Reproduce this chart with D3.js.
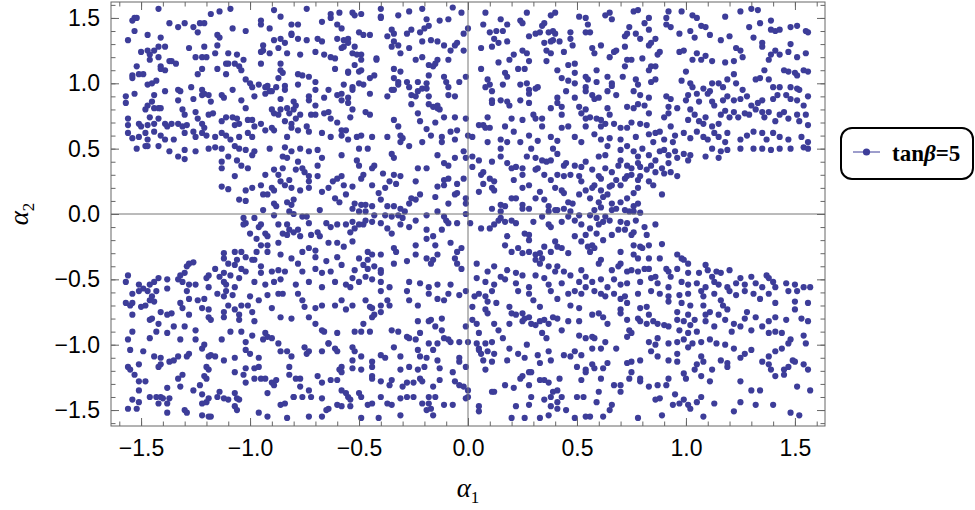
<!DOCTYPE html>
<html>
<head>
<meta charset="utf-8">
<script src="https://cdn.jsdelivr.net/npm/d3@7"></script>
<style>
  body { margin: 0; background: #fff; }
  svg { display: block; }
</style>
</head>
<body>
<div class="canvas"></div>
<script>
// alpha1, alpha2 pairs, grouped by region
const upperLeft = [[-1.42,1.57],[-1.53,1.50],[-1.54,1.48],[-1.52,1.50],[-1.37,1.46],[-1.33,1.43],[-1.30,1.46],[-1.26,1.43],[-1.23,1.46],[-1.21,1.46],[-1.24,1.39],[-1.18,1.53],[-1.14,1.55],[-1.09,1.57],[-1.47,1.37],[-1.41,1.35],[-1.53,1.40],[-1.56,1.33],[-1.08,1.42],[-1.02,1.40],[-0.95,1.48],[-0.95,1.45],[-0.89,1.56],[-0.86,1.51],[-0.91,1.42],[-0.81,1.45],[-0.78,1.45],[-0.74,1.57],[-0.67,1.47],[-0.63,1.53],[-0.59,1.54],[-0.63,1.50],[-0.58,1.42],[-0.60,1.45],[-1.15,1.37],[-1.14,1.35],[-1.50,1.24],[-1.47,1.25],[-1.46,1.22],[-1.44,1.25],[-1.42,1.28],[-1.39,1.28],[-1.46,1.18],[-1.42,1.20],[-1.28,1.27],[-1.21,1.28],[-1.15,1.29],[-1.16,1.23],[-1.25,1.20],[-1.22,1.20],[-1.20,1.20],[-1.10,1.23],[-1.06,1.22],[-1.03,1.18],[-0.94,1.29],[-0.94,1.25],[-0.91,1.23],[-0.95,1.24],[-0.89,1.33],[-0.86,1.34],[-0.84,1.31],[-0.87,1.27],[-0.83,1.23],[-0.81,1.38],[-0.81,1.37],[-0.78,1.34],[-0.77,1.22],[-0.74,1.33],[-0.69,1.34],[-0.67,1.32],[-0.70,1.24],[-0.66,1.22],[-0.63,1.20],[-0.61,1.19],[-0.58,1.27],[-0.57,1.28],[-0.55,1.34],[-0.57,1.33],[-0.60,1.34],[-1.41,1.13],[-1.41,1.11],[-1.39,1.10],[-1.37,1.17],[-1.36,1.17],[-1.34,1.15],[-1.52,1.13],[-1.54,1.06],[-1.54,1.04],[-1.51,1.07],[-1.49,1.07],[-1.47,0.99],[-1.45,1.00],[-1.43,1.02],[-1.24,1.07],[-1.22,1.11],[-1.15,1.11],[-1.11,1.15],[-1.10,1.15],[-1.11,1.07],[-1.07,1.15],[-1.05,1.13],[-1.04,1.10],[-1.02,1.03],[-0.95,1.15],[-0.86,1.15],[-0.86,1.10],[-0.85,1.08],[-0.87,1.04],[-0.78,1.07],[-0.76,1.06],[-0.73,1.05],[-0.70,1.01],[-0.61,1.11],[-0.55,1.08],[-0.99,0.97],[-1.00,1.00],[-0.96,0.99],[-0.93,0.97],[-0.92,0.98],[-0.90,0.94],[-0.88,0.97],[-0.84,0.98],[-0.84,0.95],[-0.78,0.99],[-0.73,0.90],[-0.70,0.95],[-0.64,0.95],[-0.58,0.92],[-0.57,0.99],[-1.57,0.90],[-1.57,0.85],[-1.53,0.92],[-1.44,0.91],[-1.45,0.86],[-1.39,0.94],[-1.33,0.95],[-1.32,0.94],[-1.27,0.97],[-1.22,0.95],[-1.22,0.91],[-1.21,0.92],[-1.19,0.91],[-1.26,0.88],[-1.18,0.86],[-1.13,0.91],[-1.12,0.89],[-1.08,0.95],[-1.04,0.87],[-0.98,0.90],[-0.93,0.92],[-0.91,0.94],[-0.86,0.88],[-0.80,0.86],[-0.79,0.83],[-0.73,0.87],[-0.70,0.83],[-0.66,0.89],[-0.60,0.91],[-0.58,0.87],[-0.55,0.85],[-0.66,0.77],[-1.47,0.83],[-1.48,0.80],[-1.44,0.81],[-1.42,0.81],[-1.41,0.81],[-1.33,0.87],[-1.31,0.80],[-1.30,0.76],[-1.42,0.73],[-1.46,0.74],[-1.56,0.73],[-1.56,0.68],[-1.51,0.69],[-1.50,0.67],[-1.47,0.68],[-1.44,0.69],[-1.39,0.69],[-1.38,0.67],[-1.36,0.69],[-1.33,0.69],[-1.31,0.67],[-1.29,0.68],[-1.25,0.78],[-1.24,0.73],[-1.22,0.69],[-1.21,0.66],[-1.19,0.76],[-1.17,0.77],[-1.13,0.71],[-1.11,0.74],[-1.08,0.74],[-1.06,0.73],[-1.07,0.68],[-1.05,0.69],[-1.02,0.81],[-1.01,0.72],[-0.99,0.72],[-0.98,0.67],[-0.95,0.69],[-0.93,0.64],[-0.90,0.80],[-0.89,0.77],[-0.87,0.76],[-0.86,0.80],[-0.83,0.81],[-0.82,0.77],[-0.80,0.80],[-0.79,0.73],[-0.77,0.76],[-0.84,0.71],[-0.81,0.69],[-0.74,0.67],[-0.72,0.76],[-0.70,0.76],[-0.64,0.78],[-0.63,0.73],[-0.60,0.70],[-0.56,0.64],[-0.58,0.64],[-1.56,0.62],[-1.54,0.58],[-1.51,0.59],[-1.48,0.62],[-1.47,0.57],[-1.44,0.63],[-1.41,0.60],[-1.39,0.57],[-1.35,0.57],[-1.30,0.62],[-1.26,0.63],[-1.25,0.59],[-1.22,0.62],[-1.20,0.60],[-1.16,0.59],[-1.13,0.62],[-1.11,0.60],[-1.09,0.57],[-1.05,0.59],[-1.01,0.62],[-0.99,0.59],[-0.90,0.66],[-0.89,0.64],[-0.81,0.66],[-0.83,0.59],[-0.78,0.64],[-0.73,0.63],[-0.67,0.62],[-0.63,0.59],[-0.58,0.60],[-0.55,0.57]];
const upperMid = [[-0.53,1.54],[-0.52,1.52],[-0.49,1.53],[-0.40,1.57],[-0.40,1.51],[-0.40,1.50],[-0.32,1.52],[-0.27,1.55],[-0.21,1.57],[-0.19,1.49],[-0.13,1.48],[-0.09,1.49],[-0.07,1.58],[-0.03,1.54],[-0.50,1.39],[-0.48,1.37],[-0.45,1.37],[-0.35,1.41],[-0.34,1.38],[-0.37,1.36],[-0.28,1.38],[-0.26,1.41],[-0.22,1.39],[-0.18,1.44],[-0.20,1.42],[-0.02,1.38],[0.00,1.42],[-0.55,1.31],[-0.52,1.28],[-0.35,1.28],[-0.34,1.32],[-0.32,1.29],[-0.31,1.23],[-0.27,1.27],[-0.21,1.32],[-0.17,1.33],[-0.14,1.32],[-0.11,1.29],[-0.08,1.25],[-0.06,1.29],[-0.05,1.31],[-0.02,1.25],[-0.53,1.23],[-0.51,1.22],[-0.49,1.22],[-0.49,1.18],[-0.42,1.19],[-0.42,1.18],[-0.24,1.18],[-0.21,1.20],[-0.18,1.14],[-0.16,1.13],[-0.15,1.15],[-0.14,1.18],[-0.09,1.18],[-0.52,1.14],[-0.50,1.09],[-0.49,1.10],[-0.55,1.09],[-0.34,1.11],[-0.31,1.09],[-0.45,1.04],[-0.43,1.06],[-0.34,1.04],[-0.32,1.01],[-0.32,0.99],[-0.28,1.01],[-0.27,0.97],[-0.23,1.01],[-0.19,1.00],[-0.18,1.06],[-0.11,1.05],[-0.10,1.01],[-0.04,1.01],[-0.01,1.05],[-0.53,0.97],[-0.53,0.95],[-0.48,0.99],[-0.50,1.00],[-0.55,0.89],[-0.45,0.92],[-0.37,0.90],[-0.35,0.95],[-0.34,0.95],[-0.26,0.91],[-0.24,0.90],[-0.23,0.94],[-0.21,0.96],[-0.19,0.96],[-0.18,0.90],[-0.09,0.91],[-0.06,0.90],[-0.09,0.97],[-0.26,0.84],[-0.18,0.84],[-0.16,0.82],[-0.14,0.83],[-0.13,0.80],[-0.14,0.81],[-0.53,0.80],[-0.54,0.74],[-0.47,0.78],[-0.45,0.76],[-0.34,0.72],[-0.32,0.67],[-0.23,0.77],[-0.22,0.71],[-0.19,0.65],[-0.15,0.70],[-0.11,0.74],[-0.06,0.74],[-0.08,0.63],[-0.05,0.64],[-0.51,0.59],[-0.49,0.60],[-0.44,0.59],[-0.37,0.59],[-0.31,0.60],[-0.30,0.58],[-0.31,0.55],[-0.21,0.55],[-0.17,0.60],[-0.12,0.59],[-0.12,0.55],[-0.06,0.57],[0.00,0.60],[0.02,0.59],[-0.01,0.73],[0.08,1.54],[0.07,1.45],[0.15,1.49],[0.18,1.45],[0.27,1.54],[0.24,1.48],[0.25,1.46],[0.38,1.52],[0.40,1.54],[0.51,1.51],[0.54,1.50],[0.10,1.39],[0.13,1.40],[0.16,1.40],[0.12,1.34],[0.11,1.28],[0.14,1.31],[0.18,1.32],[0.28,1.36],[0.31,1.38],[0.33,1.39],[0.35,1.46],[0.34,1.44],[0.37,1.39],[0.39,1.40],[0.40,1.38],[0.39,1.33],[0.38,1.32],[0.42,1.32],[0.47,1.39],[0.47,1.34],[0.48,1.29],[0.54,1.39],[0.06,1.27],[0.06,1.11],[0.14,1.16],[0.17,1.08],[0.18,1.05],[0.19,1.18],[0.21,1.22],[0.23,1.11],[0.25,1.25],[0.27,1.23],[0.28,1.17],[0.26,1.11],[0.35,1.31],[0.36,1.25],[0.38,1.23],[0.36,1.17],[0.41,1.10],[0.44,1.24],[0.46,1.14],[0.49,1.15],[0.49,1.08],[0.54,1.05],[0.43,1.04],[0.46,1.02],[0.09,1.03],[0.10,0.99],[0.08,0.97],[0.11,0.94],[0.16,0.99],[0.24,0.99],[0.27,1.00],[0.28,0.95],[0.28,0.92],[0.31,0.96],[0.32,0.97],[0.45,0.94],[0.49,1.00],[0.54,0.97],[0.54,0.94],[0.11,0.87],[0.11,0.85],[0.15,0.87],[0.18,0.86],[0.19,0.83],[0.24,0.87],[0.28,0.85],[0.41,0.89],[0.41,0.85],[0.38,0.81],[0.43,0.82],[0.49,0.89],[0.51,0.82],[0.54,0.80],[0.52,0.77],[0.05,0.68],[0.07,0.68],[0.09,0.74],[0.10,0.66],[0.08,0.66],[0.17,0.67],[0.20,0.73],[0.21,0.63],[0.25,0.72],[0.30,0.76],[0.31,0.73],[0.34,0.73],[0.34,0.67],[0.43,0.76],[0.43,0.66],[0.46,0.67],[0.54,0.73],[0.54,0.67],[0.09,0.55],[0.15,0.57],[0.18,0.55],[0.24,0.55],[0.28,0.60],[0.32,0.56],[0.38,0.59],[0.41,0.56],[0.49,0.59],[0.52,0.55]];
const upperRight = [[0.65,1.54],[0.63,1.52],[0.66,1.49],[0.76,1.55],[0.78,1.56],[0.92,1.55],[0.98,1.55],[1.03,1.52],[1.05,1.50],[1.18,1.51],[1.25,1.55],[1.30,1.57],[1.33,1.56],[1.39,1.48],[1.48,1.43],[1.51,1.44],[1.55,1.40],[1.56,1.39],[0.91,1.50],[0.91,1.45],[0.93,1.43],[0.97,1.38],[1.02,1.40],[1.04,1.35],[0.83,1.50],[0.81,1.46],[0.83,1.41],[1.07,1.44],[1.09,1.43],[1.11,1.37],[1.29,1.43],[1.34,1.46],[1.39,1.41],[1.41,1.40],[1.43,1.41],[0.55,1.45],[0.56,1.39],[0.74,1.43],[0.73,1.38],[0.72,1.36],[0.77,1.38],[0.79,1.34],[0.84,1.31],[0.86,1.34],[0.61,1.29],[0.57,1.27],[0.58,1.23],[0.67,1.24],[0.65,1.20],[0.68,1.25],[0.72,1.28],[0.83,1.29],[0.88,1.24],[0.87,1.22],[0.97,1.24],[0.99,1.25],[1.05,1.23],[1.09,1.21],[1.12,1.17],[1.16,1.33],[1.20,1.36],[1.23,1.27],[1.25,1.25],[1.26,1.20],[1.22,1.17],[1.18,1.16],[1.31,1.35],[1.35,1.31],[1.35,1.28],[1.39,1.22],[1.38,1.18],[1.41,1.25],[1.43,1.22],[1.47,1.24],[1.48,1.30],[1.51,1.20],[1.55,1.23],[0.73,1.18],[0.75,1.18],[0.72,1.13],[0.80,1.19],[0.83,1.10],[0.84,1.13],[0.86,1.13],[1.00,1.09],[1.03,1.18],[1.07,1.18],[0.59,1.10],[0.64,1.05],[0.66,1.00],[0.66,0.98],[0.71,1.05],[0.77,1.03],[0.78,0.99],[0.86,1.03],[0.84,1.01],[0.55,1.03],[0.59,1.01],[0.98,1.02],[1.02,1.00],[1.03,0.97],[1.08,0.96],[1.11,0.94],[1.12,1.00],[1.15,1.00],[1.17,0.97],[1.19,1.03],[1.22,1.07],[1.23,1.00],[1.26,0.95],[1.32,1.03],[1.34,1.04],[1.36,1.10],[1.38,1.03],[1.40,0.97],[1.43,0.97],[1.45,1.10],[1.47,1.09],[1.50,1.08],[1.51,1.06],[1.54,1.10],[1.56,1.09],[1.48,0.97],[1.51,0.96],[1.52,0.95],[1.46,0.91],[0.57,0.91],[0.58,0.88],[0.60,0.89],[0.64,0.94],[0.68,0.91],[0.76,0.94],[0.79,0.91],[0.83,0.89],[0.91,0.90],[0.93,0.88],[0.96,0.81],[0.92,0.82],[0.92,0.77],[0.90,0.74],[1.00,0.87],[1.01,0.91],[1.05,0.92],[1.06,0.86],[1.10,0.92],[1.12,0.86],[1.13,0.83],[1.17,0.87],[1.19,0.90],[1.22,0.87],[1.25,0.88],[1.28,0.90],[1.30,0.83],[1.33,0.85],[1.35,0.87],[1.40,0.88],[1.42,0.91],[1.48,0.88],[1.51,0.87],[1.54,0.83],[1.56,0.90],[0.73,0.82],[0.76,0.81],[0.78,0.84],[0.81,0.83],[0.83,0.77],[0.64,0.81],[0.65,0.76],[0.56,0.74],[0.59,0.73],[0.61,0.72],[0.61,0.67],[0.63,0.69],[0.67,0.69],[0.70,0.66],[0.73,0.66],[0.75,0.70],[0.79,0.69],[0.82,0.68],[0.86,0.62],[0.88,0.63],[0.93,0.67],[0.95,0.60],[1.01,0.72],[1.02,0.80],[1.04,0.76],[1.06,0.71],[1.08,0.69],[1.09,0.74],[1.12,0.67],[1.15,0.69],[1.16,0.76],[1.18,0.79],[1.20,0.74],[1.22,0.78],[1.24,0.74],[1.27,0.77],[1.29,0.76],[1.32,0.80],[1.35,0.78],[1.36,0.74],[1.38,0.78],[1.41,0.71],[1.43,0.76],[1.45,0.78],[1.47,0.73],[1.51,0.76],[1.52,0.71],[1.55,0.76],[1.56,0.68],[0.58,0.61],[0.61,0.57],[0.65,0.58],[0.70,0.57],[0.77,0.59],[0.83,0.61],[0.85,0.55],[0.90,0.57],[0.94,0.55],[0.99,0.62],[1.02,0.58],[1.05,0.63],[1.08,0.59],[1.10,0.57],[1.13,0.62],[1.15,0.59],[1.18,0.55],[1.19,0.62],[1.25,0.57],[1.28,0.60],[1.31,0.63],[1.35,0.62],[1.37,0.57],[1.40,0.62],[1.43,0.59],[1.47,0.57],[1.53,0.59],[1.56,0.55]];
const midLeft = [[-1.52,0.50],[-1.48,0.52],[-1.47,0.52],[-1.42,0.52],[-1.37,0.48],[-1.33,0.44],[-1.30,0.42],[-1.30,0.49],[-1.25,0.48],[-1.19,0.50],[-1.16,0.51],[-1.13,0.50],[-1.07,0.52],[-1.05,0.50],[-1.02,0.49],[-0.99,0.45],[-0.98,0.48],[-1.10,0.44],[-1.06,0.41],[-1.04,0.37],[-1.01,0.35],[-1.13,0.40],[-1.13,0.35],[-0.91,0.50],[-0.84,0.51],[-0.85,0.44],[-0.83,0.43],[-0.81,0.48],[-0.77,0.50],[-0.73,0.48],[-0.69,0.49],[-0.67,0.43],[-0.69,0.37],[-0.78,0.40],[-0.76,0.35],[-0.58,0.45],[-1.07,0.29],[-1.13,0.21],[-1.10,0.19],[-1.02,0.18],[-0.99,0.20],[-0.95,0.22],[-0.93,0.30],[-0.89,0.34],[-0.87,0.30],[-0.85,0.35],[-0.90,0.20],[-0.89,0.18],[-0.94,0.15],[-0.92,0.15],[-0.86,0.25],[-0.84,0.22],[-0.82,0.26],[-0.81,0.20],[-0.77,0.18],[-0.73,0.20],[-0.75,0.32],[-0.73,0.29],[-0.73,0.25],[-0.69,0.29],[-0.79,0.34],[-1.05,0.11],[-1.02,0.10],[-0.89,0.08],[-0.88,0.06],[-0.83,0.09],[-0.81,0.07],[-0.80,0.11],[-0.67,0.17],[-0.64,0.20],[-0.62,0.25],[-0.60,0.27],[-0.58,0.29],[-0.57,0.22],[-0.61,0.12],[-0.59,0.09],[-0.56,0.15],[-0.68,0.03],[-0.94,0.03],[-0.89,-0.01],[-0.82,0.02],[-0.80,0.00],[-0.76,-0.02],[-0.74,-0.02],[-1.03,-0.03],[-1.02,-0.07],[-1.03,-0.08],[-0.98,-0.03],[-0.96,-0.10],[-0.95,-0.08],[-1.00,-0.15],[-0.93,-0.15],[-0.97,-0.19],[-0.92,-0.17],[-0.95,-0.24],[-0.92,-0.24],[-0.87,-0.08],[-0.87,-0.22],[-0.83,-0.08],[-0.82,-0.12],[-0.83,-0.16],[-0.85,-0.15],[-0.80,-0.14],[-0.78,-0.12],[-0.77,-0.17],[-0.73,-0.07],[-0.72,-0.16],[-0.69,-0.14],[-0.68,-0.17],[-0.65,-0.07],[-0.63,-0.10],[-0.60,-0.08],[-0.64,-0.22],[-0.73,-0.26],[-0.70,-0.28],[-0.70,-0.33],[-0.76,-0.29],[-0.86,-0.31],[-0.92,-0.29],[-0.97,-0.29],[-0.98,-0.35],[-0.99,-0.35],[-1.04,-0.29],[-1.02,-0.33],[-1.07,-0.29],[-1.12,-0.30],[-1.12,-0.34],[-0.60,-0.22],[-0.57,-0.25],[-0.56,-0.08],[-1.10,-0.38],[-1.07,-0.39],[-1.04,-0.42],[-1.02,-0.44],[-1.06,-0.35],[-1.16,-0.42],[-1.20,-0.49],[-1.19,-0.47],[-1.14,-0.48],[-1.12,-0.45],[-1.09,-0.47],[-1.05,-0.49],[-0.95,-0.40],[-0.95,-0.45],[-0.90,-0.44],[-0.87,-0.43],[-0.84,-0.44],[-0.81,-0.34],[-0.78,-0.38],[-0.76,-0.44],[-0.70,-0.42],[-0.65,-0.36],[-0.67,-0.45],[-0.63,-0.44],[-0.60,-0.33],[-0.58,-0.39],[-1.28,-0.38],[-1.26,-0.37],[-1.29,-0.40],[-1.30,-0.45],[-1.32,-0.47],[-1.33,-0.50],[-1.31,-0.52],[-1.28,-0.54],[-1.42,-0.49],[-1.44,-0.52],[-1.38,-0.50],[-1.46,-0.54],[-1.51,-0.54],[-1.56,-0.47],[-1.57,-0.52],[-1.25,-0.54],[-1.19,-0.56],[-0.98,-0.52],[-0.93,-0.54],[-0.89,-0.52],[-0.86,-0.50],[-0.79,-0.54],[-0.73,-0.52],[-0.67,-0.56],[-0.61,-0.52],[-0.56,-0.54],[-1.12,-0.52],[-1.11,-0.54],[-1.07,-0.56],[-1.38,-0.57],[-1.49,-0.57]];
const center = [[-0.50,0.50],[-0.46,0.50],[-0.35,0.46],[-0.34,0.43],[-0.27,0.52],[-0.14,0.45],[-0.11,0.39],[-0.09,0.37],[-0.06,0.43],[-0.02,0.48],[-0.01,0.43],[0.02,0.44],[0.02,0.36],[0.05,0.41],[0.11,0.40],[0.15,0.44],[0.15,0.50],[0.18,0.39],[0.20,0.35],[0.22,0.36],[0.25,0.35],[0.27,0.44],[0.29,0.50],[0.31,0.43],[0.34,0.41],[0.36,0.40],[0.38,0.41],[0.39,0.50],[0.41,0.46],[0.44,0.37],[0.45,0.39],[0.49,0.37],[-0.51,0.41],[-0.50,0.37],[-0.44,0.35],[-0.43,0.37],[-0.48,0.30],[-0.49,0.27],[-0.39,0.31],[-0.34,0.30],[-0.31,0.29],[-0.23,0.35],[-0.19,0.35],[-0.09,0.27],[-0.05,0.23],[-0.02,0.27],[0.06,0.30],[0.07,0.32],[0.10,0.27],[0.12,0.25],[0.21,0.26],[0.25,0.30],[0.31,0.34],[0.32,0.35],[0.35,0.30],[0.38,0.26],[0.41,0.30],[0.44,0.29],[0.47,0.30],[0.51,0.29],[0.52,0.36],[0.54,0.40],[-0.53,0.21],[-0.44,0.22],[-0.41,0.16],[-0.38,0.20],[-0.36,0.25],[-0.33,0.23],[-0.24,0.25],[-0.22,0.15],[-0.24,0.11],[-0.27,0.08],[-0.26,0.12],[-0.14,0.21],[-0.11,0.26],[-0.11,0.22],[-0.15,0.13],[-0.06,0.15],[-0.05,0.16],[-0.01,0.12],[-0.01,0.08],[0.07,0.23],[0.05,0.17],[0.11,0.20],[0.12,0.18],[0.15,0.07],[0.17,0.06],[0.20,0.12],[0.22,0.12],[0.25,0.20],[0.25,0.07],[0.28,0.22],[0.28,0.04],[0.33,0.17],[0.35,0.11],[0.37,0.06],[0.40,0.20],[0.43,0.18],[0.44,0.16],[0.46,0.09],[0.48,0.08],[0.51,0.15],[0.54,0.18],[0.52,0.25],[-0.52,0.08],[-0.49,0.07],[-0.47,0.07],[-0.44,0.06],[-0.40,0.11],[-0.37,0.06],[-0.34,0.06],[-0.31,0.04],[-0.09,0.08],[-0.53,0.04],[-0.50,0.02],[-0.47,0.02],[-0.43,-0.01],[-0.38,-0.01],[-0.35,-0.02],[-0.32,-0.01],[-0.29,0.02],[-0.19,-0.01],[-0.14,0.02],[-0.11,-0.02],[-0.01,0.00],[0.11,0.04],[0.15,0.02],[0.25,0.04],[0.37,0.02],[0.41,0.03],[0.44,0.04],[0.47,0.02],[0.51,-0.01],[0.31,0.12],[0.40,0.03],[-0.53,-0.06],[-0.50,-0.08],[-0.52,-0.11],[-0.54,-0.14],[-0.48,-0.08],[-0.47,-0.05],[-0.44,-0.06],[-0.40,-0.07],[-0.37,-0.11],[-0.35,-0.15],[-0.31,-0.08],[-0.30,-0.03],[-0.27,-0.10],[-0.24,-0.05],[-0.19,-0.12],[-0.16,-0.17],[-0.12,-0.12],[-0.10,-0.05],[-0.09,-0.07],[-0.05,-0.07],[0.01,-0.07],[0.06,-0.11],[0.10,-0.11],[0.12,-0.08],[0.14,-0.05],[0.15,-0.03],[0.17,-0.06],[0.20,-0.05],[0.22,-0.07],[0.26,-0.15],[0.28,-0.16],[0.28,-0.20],[0.30,-0.06],[0.34,-0.02],[0.37,-0.08],[0.38,-0.10],[0.43,-0.06],[0.46,-0.02],[0.49,-0.05],[0.52,-0.08],[0.54,-0.16],[0.49,-0.17],[0.40,-0.21],[0.41,-0.25],[0.38,-0.29],[0.43,-0.26],[0.46,-0.30],[0.52,-0.21],[0.55,-0.25],[0.18,-0.17],[0.17,-0.24],[0.20,-0.29],[0.23,-0.26],[0.25,-0.30],[0.28,-0.29],[0.31,-0.31],[0.33,-0.30],[0.35,-0.25],[-0.53,-0.21],[-0.46,-0.29],[-0.44,-0.31],[-0.40,-0.31],[-0.34,-0.26],[-0.33,-0.29],[-0.24,-0.24],[-0.19,-0.19],[-0.15,-0.24],[-0.14,-0.31],[-0.08,-0.22],[-0.05,-0.29],[-0.03,-0.26],[-0.50,-0.34],[-0.46,-0.35],[-0.48,-0.39],[-0.46,-0.42],[-0.43,-0.40],[-0.40,-0.43],[-0.40,-0.45],[-0.52,-0.43],[-0.53,-0.49],[-0.50,-0.52],[-0.47,-0.48],[-0.44,-0.50],[-0.40,-0.52],[-0.34,-0.38],[-0.28,-0.36],[-0.24,-0.31],[-0.19,-0.34],[-0.16,-0.35],[-0.17,-0.38],[-0.06,-0.34],[-0.05,-0.38],[-0.03,-0.42],[0.04,-0.38],[0.09,-0.44],[0.12,-0.40],[0.15,-0.48],[0.18,-0.43],[0.22,-0.45],[0.25,-0.47],[0.31,-0.35],[0.33,-0.38],[0.34,-0.34],[0.37,-0.40],[0.40,-0.44],[0.41,-0.40],[0.44,-0.44],[0.47,-0.47],[0.52,-0.43],[0.54,-0.48],[0.31,-0.47],[0.35,-0.49],[-0.27,-0.52],[-0.22,-0.53],[-0.18,-0.56],[-0.14,-0.54],[-0.08,-0.54],[0.04,-0.49],[0.08,-0.52],[0.12,-0.54],[0.17,-0.50],[0.22,-0.53],[0.28,-0.56],[0.37,-0.54],[0.43,-0.53],[0.51,-0.52],[0.54,-0.56],[-0.36,-0.56],[-0.54,-0.56]];
const midRight = [[0.60,0.44],[0.63,0.45],[0.64,0.52],[0.70,0.49],[0.73,0.52],[0.76,0.48],[0.78,0.44],[0.80,0.50],[0.83,0.45],[0.86,0.41],[0.88,0.48],[0.90,0.49],[0.92,0.45],[0.95,0.48],[0.96,0.43],[0.99,0.46],[1.01,0.41],[1.02,0.45],[1.09,0.44],[1.12,0.50],[1.15,0.43],[1.16,0.48],[1.19,0.49],[1.25,0.50],[1.31,0.50],[1.35,0.50],[1.39,0.49],[1.43,0.50],[1.48,0.50],[1.54,0.51],[1.56,0.50],[0.57,0.34],[0.60,0.29],[0.61,0.27],[0.63,0.35],[0.66,0.32],[0.69,0.37],[0.70,0.41],[0.73,0.37],[0.75,0.35],[0.78,0.39],[0.79,0.36],[0.82,0.34],[0.84,0.37],[0.86,0.32],[0.89,0.35],[0.92,0.39],[0.93,0.32],[0.96,0.29],[0.90,0.31],[0.57,0.20],[0.58,0.22],[0.61,0.18],[0.65,0.21],[0.66,0.22],[0.68,0.26],[0.70,0.22],[0.72,0.27],[0.73,0.29],[0.75,0.30],[0.78,0.26],[0.79,0.29],[0.83,0.25],[0.85,0.22],[0.78,0.20],[0.76,0.16],[0.73,0.12],[0.70,0.09],[0.66,0.08],[0.62,0.13],[0.64,0.15],[0.60,0.09],[0.89,0.15],[0.56,0.12],[0.78,0.08],[0.76,0.06],[0.74,0.02],[0.72,0.03],[0.58,0.03],[0.61,0.05],[0.66,0.03],[0.68,0.04],[0.79,0.01],[0.76,0.02],[0.56,-0.01],[0.59,-0.03],[0.63,-0.02],[0.62,-0.06],[0.65,-0.05],[0.70,-0.06],[0.73,-0.07],[0.77,-0.05],[0.81,-0.10],[0.86,-0.08],[0.60,-0.08],[0.56,-0.11],[0.59,-0.15],[0.62,-0.20],[0.66,-0.16],[0.69,-0.12],[0.72,-0.12],[0.75,-0.16],[0.76,-0.14],[0.82,-0.16],[0.57,-0.24],[0.56,-0.29],[0.58,-0.26],[0.70,-0.29],[0.76,-0.24],[0.79,-0.25],[0.80,-0.26],[0.83,-0.24],[0.89,-0.23],[0.76,-0.31],[0.78,-0.34],[0.83,-0.34],[0.88,-0.34],[0.96,-0.31],[0.98,-0.34],[1.01,-0.38],[0.99,-0.35],[0.61,-0.35],[0.60,-0.38],[0.66,-0.43],[0.69,-0.40],[0.70,-0.38],[0.73,-0.44],[0.75,-0.43],[0.78,-0.44],[0.81,-0.42],[0.83,-0.42],[0.86,-0.48],[0.84,-0.49],[0.91,-0.42],[0.92,-0.44],[0.93,-0.48],[0.96,-0.42],[1.01,-0.45],[1.06,-0.45],[1.09,-0.39],[1.10,-0.43],[1.12,-0.48],[1.14,-0.44],[1.16,-0.45],[1.20,-0.43],[1.25,-0.49],[1.30,-0.48],[1.37,-0.47],[1.38,-0.49],[1.40,-0.52],[1.46,-0.53],[1.54,-0.56],[0.57,-0.52],[0.61,-0.50],[0.64,-0.56],[0.67,-0.50],[0.70,-0.54],[0.73,-0.53],[0.79,-0.52],[0.87,-0.53],[0.92,-0.56],[0.98,-0.52],[1.01,-0.54],[1.05,-0.53],[1.09,-0.56],[1.13,-0.52],[1.15,-0.54],[1.19,-0.56],[1.23,-0.53],[1.27,-0.54],[1.32,-0.53],[1.35,-0.56],[1.41,-0.56],[1.50,-0.54],[1.57,-0.56]];
const lowerLeft = [[-1.54,-0.61],[-1.51,-0.59],[-1.47,-0.59],[-1.43,-0.59],[-1.57,-0.68],[-1.55,-0.70],[-1.54,-0.68],[-1.54,-0.77],[-1.50,-0.71],[-1.48,-0.70],[-1.46,-0.66],[-1.44,-0.67],[-1.45,-0.63],[-1.41,-0.75],[-1.38,-0.77],[-1.36,-0.76],[-1.45,-0.80],[-1.46,-0.81],[-1.42,-0.84],[-1.43,-0.90],[-1.38,-0.91],[-1.35,-0.86],[-1.32,-0.68],[-1.31,-0.72],[-1.29,-0.59],[-1.28,-0.65],[-1.28,-0.77],[-1.24,-0.66],[-1.22,-0.72],[-1.21,-0.65],[-1.19,-0.73],[-1.19,-0.79],[-1.18,-0.81],[-1.15,-0.61],[-1.12,-0.63],[-1.11,-0.59],[-1.10,-0.70],[-1.12,-0.75],[-1.12,-0.79],[-1.08,-0.62],[-1.07,-0.73],[-1.05,-0.77],[-1.05,-0.81],[-1.04,-0.70],[-1.01,-0.70],[-1.00,-0.63],[-0.99,-0.75],[-0.98,-0.82],[-0.96,-0.66],[-0.92,-0.62],[-0.90,-0.72],[-0.87,-0.61],[-0.85,-0.61],[-0.86,-0.79],[-0.81,-0.80],[-0.78,-0.61],[-0.76,-0.66],[-0.75,-0.71],[-0.73,-0.79],[-0.70,-0.84],[-0.70,-0.72],[-0.67,-0.70],[-0.67,-0.89],[-0.66,-0.90],[-0.61,-0.70],[-0.60,-0.91],[-0.64,-0.99],[-0.58,-0.66],[-0.56,-0.73],[-1.56,-0.96],[-1.55,-1.04],[-1.54,-0.90],[-1.49,-1.05],[-1.46,-0.95],[-1.32,-0.96],[-1.25,-0.89],[-1.25,-0.96],[-1.22,-1.03],[-1.21,-1.00],[-1.30,-0.86],[-1.13,-0.96],[-1.09,-0.90],[-1.04,-0.90],[-1.02,-0.98],[-0.99,-0.93],[-1.02,-1.04],[-1.00,-1.07],[-0.96,-1.10],[-0.93,-0.91],[-0.92,-0.94],[-0.94,-0.96],[-0.90,-0.95],[-0.87,-0.99],[-0.86,-1.05],[-0.83,-1.05],[-0.81,-1.09],[-0.75,-1.02],[-0.74,-1.07],[-0.73,-1.05],[-0.67,-1.05],[-0.64,-0.99],[-0.61,-1.03],[-0.60,-1.05],[-0.58,-1.17],[-0.59,-1.19],[-1.44,-1.09],[-1.41,-1.10],[-1.42,-1.17],[-1.41,-1.15],[-1.37,-1.13],[-1.35,-1.12],[-1.33,-1.09],[-1.28,-1.07],[-1.29,-1.09],[-1.19,-1.09],[-1.18,-1.08],[-1.16,-1.09],[-1.20,-1.17],[-1.19,-1.19],[-1.21,-1.24],[-1.20,-1.26],[-1.12,-1.12],[-1.07,-1.10],[-1.07,-1.21],[-1.03,-1.23],[-1.02,-1.18],[-0.98,-1.18],[-0.96,-1.17],[-0.98,-1.26],[-0.95,-1.26],[-0.93,-1.26],[-0.90,-1.29],[-0.89,-1.31],[-0.88,-1.27],[-0.82,-1.17],[-0.82,-1.23],[-0.79,-1.26],[-0.77,-1.26],[-0.77,-1.32],[-0.80,-1.40],[-0.69,-1.24],[-0.67,-1.29],[-0.63,-1.27],[-0.60,-1.27],[-0.58,-1.35],[-0.58,-1.21],[-0.55,-1.40],[-1.56,-1.17],[-1.55,-1.19],[-1.53,-1.23],[-1.51,-1.28],[-1.48,-1.28],[-1.51,-1.15],[-1.33,-1.26],[-1.31,-1.23],[-1.32,-1.32],[-1.38,-1.33],[-1.40,-1.41],[-1.38,-1.45],[-1.46,-1.40],[-1.43,-1.40],[-1.41,-1.40],[-1.37,-1.41],[-1.42,-1.45],[-1.56,-1.49],[-1.52,-1.49],[-1.51,-1.44],[-1.23,-1.31],[-1.26,-1.35],[-1.22,-1.38],[-1.22,-1.45],[-1.20,-1.44],[-1.19,-1.41],[-1.15,-1.40],[-1.14,-1.36],[-1.12,-1.41],[-1.10,-1.42],[-1.07,-1.37],[-1.06,-1.41],[-1.05,-1.42],[-1.02,-1.29],[-0.92,-1.37],[-0.86,-1.46],[-0.84,-1.45],[-0.80,-1.40],[-0.76,-1.40],[-0.73,-1.35],[-0.72,-1.40],[-0.67,-1.41],[-0.64,-1.49],[-0.65,-1.50],[-0.60,-1.46],[-0.56,-1.37],[-1.38,-1.52],[-1.30,-1.50],[-1.29,-1.52],[-1.22,-1.54],[-1.19,-1.55],[-1.18,-1.55],[-1.07,-1.47],[-1.06,-1.50],[-0.96,-1.52],[-0.92,-1.55],[-0.83,-1.56],[-0.73,-1.55],[-0.67,-1.55],[-0.58,-1.47],[-1.54,-1.42],[-1.51,-1.35]];
const lowerMid = [[-0.53,-0.70],[-0.47,-0.66],[-0.45,-0.71],[-0.44,-0.72],[-0.40,-0.59],[-0.40,-0.70],[-0.40,-0.75],[-0.37,-0.66],[-0.36,-0.70],[-0.28,-0.59],[-0.27,-0.66],[-0.23,-0.70],[-0.18,-0.61],[-0.14,-0.65],[-0.11,-0.66],[-0.09,-0.61],[-0.04,-0.62],[-0.01,-0.59],[0.02,-0.71],[0.03,-0.63],[0.05,-0.61],[0.08,-0.63],[0.09,-0.67],[0.11,-0.59],[0.13,-0.68],[0.08,-0.73],[0.09,-0.76],[0.19,-0.71],[0.20,-0.76],[0.23,-0.59],[0.25,-0.76],[0.28,-0.79],[0.28,-0.61],[0.30,-0.66],[0.33,-0.71],[0.38,-0.59],[0.41,-0.65],[0.46,-0.61],[0.47,-0.70],[0.51,-0.72],[0.52,-0.61],[0.49,-0.59],[-0.44,-0.79],[-0.43,-0.77],[-0.48,-0.84],[-0.49,-0.90],[-0.52,-0.90],[-0.45,-0.90],[-0.35,-0.89],[-0.32,-0.90],[-0.28,-0.94],[-0.27,-0.95],[-0.24,-0.96],[-0.23,-0.82],[-0.22,-0.91],[-0.18,-0.82],[-0.17,-0.81],[-0.15,-0.86],[-0.12,-0.80],[-0.12,-0.89],[-0.09,-0.96],[-0.14,-0.99],[-0.18,-0.99],[-0.16,-1.04],[-0.11,-0.95],[-0.08,-0.98],[-0.04,-0.98],[0.00,-0.98],[-0.01,-0.86],[0.02,-0.81],[0.04,-0.84],[0.05,-0.91],[0.08,-0.99],[0.11,-0.98],[0.04,-0.99],[0.05,-1.03],[0.09,-1.05],[0.12,-0.84],[0.14,-0.89],[0.16,-0.95],[0.19,-0.84],[0.22,-0.77],[0.25,-0.82],[0.26,-0.80],[0.29,-0.84],[0.31,-0.85],[0.33,-0.82],[0.35,-0.81],[0.37,-0.84],[0.39,-0.79],[0.41,-0.80],[0.34,-0.91],[0.36,-0.95],[0.43,-0.89],[0.46,-0.82],[0.51,-0.82],[0.51,-0.93],[0.54,-0.95],[-0.53,-1.02],[-0.52,-1.05],[-0.53,-1.12],[-0.49,-1.09],[-0.44,-1.13],[-0.44,-1.17],[-0.40,-1.08],[-0.38,-1.10],[-0.34,-1.02],[-0.31,-1.09],[-0.31,-1.19],[-0.27,-1.17],[-0.23,-1.04],[-0.22,-1.09],[-0.19,-1.10],[-0.23,-1.19],[-0.20,-1.17],[-0.14,-1.12],[-0.13,-1.18],[-0.07,-1.21],[-0.04,-1.10],[-0.04,-1.13],[-0.01,-1.17],[0.05,-1.04],[0.06,-1.07],[0.07,-1.12],[0.12,-1.07],[0.11,-1.13],[0.08,-1.19],[0.18,-1.12],[0.19,-1.03],[0.23,-1.07],[0.26,-1.10],[0.27,-1.00],[0.33,-1.14],[0.32,-1.08],[0.37,-1.05],[0.38,-1.12],[0.44,-1.08],[0.47,-1.09],[0.49,-1.05],[0.52,-1.08],[0.50,-1.17],[0.54,-1.19],[-0.53,-1.18],[-0.49,-1.19],[-0.44,-1.24],[-0.44,-1.26],[-0.40,-1.28],[-0.35,-1.27],[-0.36,-1.31],[-0.30,-1.32],[-0.28,-1.29],[-0.22,-1.26],[-0.21,-1.28],[-0.25,-1.29],[-0.16,-1.32],[-0.13,-1.27],[-0.06,-1.28],[-0.04,-1.31],[-0.02,-1.32],[0.00,-1.35],[0.00,-1.40],[-0.01,-1.41],[-0.15,-1.40],[-0.18,-1.40],[-0.21,-1.45],[-0.18,-1.45],[-0.17,-1.49],[-0.25,-1.40],[-0.28,-1.40],[-0.31,-1.41],[-0.35,-1.46],[-0.37,-1.45],[-0.40,-1.40],[-0.44,-1.45],[-0.46,-1.46],[-0.49,-1.40],[-0.50,-1.37],[-0.54,-1.42],[-0.54,-1.47],[-0.49,-1.56],[-0.41,-1.56],[-0.31,-1.54],[-0.19,-1.50],[-0.16,-1.54],[-0.11,-1.46],[-0.07,-1.46],[0.05,-1.47],[0.05,-1.51],[0.11,-1.36],[0.12,-1.36],[0.17,-1.31],[0.21,-1.33],[0.24,-1.26],[0.25,-1.24],[0.28,-1.21],[0.29,-1.21],[0.28,-1.31],[0.33,-1.27],[0.35,-1.27],[0.37,-1.29],[0.38,-1.40],[0.39,-1.36],[0.41,-1.35],[0.43,-1.40],[0.41,-1.44],[0.41,-1.49],[0.38,-1.47],[0.35,-1.42],[0.29,-1.40],[0.28,-1.46],[0.22,-1.47],[0.20,-1.56],[0.26,-1.56],[0.33,-1.56],[0.37,-1.54],[0.42,-1.26],[0.45,-1.50],[0.50,-1.40],[0.53,-1.40],[0.52,-1.27],[0.54,-1.21],[0.54,-1.55],[0.49,-1.56]];
const lowerRight = [[0.58,-0.59],[0.61,-0.61],[0.63,-0.63],[0.67,-0.61],[0.70,-0.65],[0.73,-0.68],[0.72,-0.63],[0.78,-0.61],[0.84,-0.59],[0.88,-0.61],[0.92,-0.67],[0.92,-0.63],[0.97,-0.62],[0.98,-0.68],[1.01,-0.61],[1.02,-0.70],[1.07,-0.59],[1.08,-0.63],[1.13,-0.61],[1.16,-0.66],[1.17,-0.70],[1.20,-0.59],[1.23,-0.62],[1.27,-0.59],[1.31,-0.61],[1.34,-0.65],[1.38,-0.61],[1.41,-0.68],[1.47,-0.59],[1.50,-0.67],[1.51,-0.59],[1.56,-0.68],[0.57,-0.77],[0.60,-0.76],[0.62,-0.79],[0.64,-0.84],[0.70,-0.76],[0.70,-0.73],[0.79,-0.72],[0.82,-0.71],[0.83,-0.77],[0.78,-0.80],[0.79,-0.82],[0.73,-0.81],[0.75,-0.91],[0.73,-0.94],[0.74,-0.89],[0.57,-0.94],[0.58,-0.95],[0.63,-0.98],[0.61,-1.03],[0.57,-1.03],[0.68,-1.03],[0.82,-0.84],[0.85,-0.82],[0.87,-0.84],[0.90,-0.85],[0.92,-0.86],[0.96,-0.75],[0.96,-0.81],[0.97,-0.89],[0.99,-0.82],[1.01,-0.77],[1.02,-0.85],[1.04,-0.81],[1.08,-0.70],[1.09,-0.77],[1.11,-0.75],[1.09,-0.82],[1.05,-0.90],[1.01,-0.91],[0.99,-0.96],[0.96,-0.98],[0.92,-0.99],[0.87,-0.95],[0.86,-1.00],[0.83,-0.98],[0.84,-1.05],[0.87,-1.09],[0.92,-1.12],[0.96,-1.07],[0.96,-1.13],[1.01,-1.02],[1.03,-0.99],[1.07,-0.98],[1.11,-0.96],[1.14,-0.99],[1.13,-0.86],[1.15,-0.77],[1.18,-0.81],[1.19,-0.73],[1.21,-0.90],[1.22,-0.84],[1.25,-0.86],[1.27,-0.80],[1.28,-0.75],[1.30,-0.89],[1.32,-0.79],[1.35,-0.86],[1.38,-0.82],[1.38,-0.91],[1.41,-0.90],[1.44,-0.91],[1.41,-0.79],[1.46,-0.81],[1.50,-0.73],[1.53,-0.80],[1.56,-0.82],[1.54,-0.93],[1.55,-0.99],[1.48,-0.96],[1.47,-0.99],[1.44,-1.03],[1.41,-1.05],[1.38,-1.09],[1.35,-1.13],[1.38,-1.15],[1.39,-1.19],[1.41,-1.24],[1.45,-1.19],[1.45,-1.23],[1.47,-1.17],[1.49,-1.12],[1.50,-1.13],[1.54,-1.15],[1.56,-1.19],[1.18,-1.00],[1.22,-1.03],[1.27,-1.07],[1.30,-1.04],[1.25,-1.10],[1.16,-1.12],[1.19,-1.17],[1.07,-1.09],[1.08,-1.13],[1.05,-1.15],[1.04,-1.19],[0.99,-1.22],[1.00,-1.26],[1.07,-1.24],[1.12,-1.19],[1.11,-1.28],[1.07,-1.40],[1.05,-1.44],[1.01,-1.46],[1.02,-1.49],[0.99,-1.42],[0.97,-1.45],[0.95,-1.38],[0.94,-1.46],[0.92,-1.26],[0.91,-1.31],[0.87,-1.31],[0.88,-1.41],[0.86,-1.42],[0.89,-1.54],[0.78,-1.56],[0.83,-1.32],[0.79,-1.28],[0.79,-1.26],[0.75,-1.21],[0.74,-1.26],[0.73,-1.14],[0.75,-1.13],[0.79,-1.12],[0.70,-1.31],[0.70,-1.36],[0.67,-1.31],[0.66,-1.46],[0.65,-1.50],[0.62,-1.55],[0.59,-1.44],[0.60,-1.36],[0.61,-1.26],[0.57,-1.15],[0.58,-1.18],[0.62,-1.18],[0.64,-1.14],[0.56,-1.55],[1.13,-1.45],[1.08,-1.55],[1.22,-1.51],[1.25,-1.28],[1.30,-1.35],[1.34,-1.35],[1.32,-1.46],[1.40,-1.46],[1.48,-1.52],[1.52,-1.54],[1.51,-1.32],[1.57,-1.35],[1.25,-1.44],[1.19,-1.14]];

const majorTicks = [-1.5, -1.0, -0.5, 0.0, 0.5, 1.0, 1.5];
const minorTicks = d3.range(-16, 17).map(d => d / 10);
const seriesLabel = "tan";

const dim = { width: 975, height: 510 };
const frame = { left: 111, right: 825, top: 2, bottom: 426 };
const dotColor = "#3d3d99";
const frameColor = "#666";

let svg = d3.select(".canvas").append("svg").attr("width", dim.width).attr("height", dim.height);
svg.append("rect").attr("width", dim.width).attr("height", dim.height).attr("fill", "#fff");

const x = d3.scaleLinear().domain([-1.638, 1.638]).range([frame.left, frame.right]);
const y = d3.scaleLinear().domain([-1.622, 1.622]).range([frame.bottom, frame.top]);

const points = [...upperLeft, ...upperMid, ...upperRight, ...midLeft, ...center, ...midRight, ...lowerLeft, ...lowerMid, ...lowerRight];

// dots
svg.append("g").selectAll("circle").data(points).enter().append("circle")
  .attr("cx", d => x(d[0]))
  .attr("cy", d => y(d[1]))
  .attr("r", 3.1)
  .attr("fill", dotColor);

// axes through origin
svg.append("line").attr("x1", x(0)).attr("x2", x(0)).attr("y1", frame.top).attr("y2", frame.bottom)
  .attr("stroke", "#777").attr("stroke-width", 1);
svg.append("line").attr("x1", frame.left).attr("x2", frame.right).attr("y1", y(0)).attr("y2", y(0))
  .attr("stroke", "#777").attr("stroke-width", 1);

// frame ticks, inward on all four sides
const fmt = d3.format(".1f");
const styleAxis = (g, labels) => {
  g.select(".domain").remove();
  g.selectAll(".tick line").attr("stroke", frameColor);
  g.selectAll("text").attr("font-family", "'Liberation Sans', Arial, sans-serif").attr("font-size", 23).attr("fill", "#000");
  if (!labels) g.selectAll("text").remove();
};
const addAxis = (axis, transform, labels) => {
  svg.append("g").attr("transform", transform).call(axis).call(g => styleAxis(g, labels));
};

addAxis(d3.axisBottom(x).tickValues(minorTicks).tickSize(-4.5).tickFormat(""), `translate(0,${frame.bottom})`, false);
addAxis(d3.axisBottom(x).tickValues(majorTicks).tickSize(-8).tickPadding(14).tickFormat(fmt), `translate(0,${frame.bottom})`, true);
addAxis(d3.axisTop(x).tickValues(minorTicks).tickSize(-4.5).tickFormat(""), `translate(0,${frame.top})`, false);
addAxis(d3.axisTop(x).tickValues(majorTicks).tickSize(-8).tickFormat(""), `translate(0,${frame.top})`, false);
addAxis(d3.axisLeft(y).tickValues(minorTicks).tickSize(-4.5).tickFormat(""), `translate(${frame.left},0)`, false);
addAxis(d3.axisLeft(y).tickValues(majorTicks).tickSize(-8).tickPadding(11).tickFormat(fmt), `translate(${frame.left},0)`, true);
addAxis(d3.axisRight(y).tickValues(minorTicks).tickSize(-4.5).tickFormat(""), `translate(${frame.right},0)`, false);
addAxis(d3.axisRight(y).tickValues(majorTicks).tickSize(-8).tickFormat(""), `translate(${frame.right},0)`, false);

svg.append("rect")
  .attr("x", frame.left).attr("y", frame.top)
  .attr("width", frame.right - frame.left).attr("height", frame.bottom - frame.top)
  .attr("fill", "none").attr("stroke", frameColor).attr("stroke-width", 1);

// axis titles
const xTitle = svg.append("text").attr("x", x(0)).attr("y", 497).attr("text-anchor", "middle")
  .attr("font-family", "'Liberation Serif', 'Times New Roman', serif").attr("font-size", 27);
xTitle.append("tspan").attr("font-style", "italic").text("α");
xTitle.append("tspan").attr("font-size", 17).attr("dy", 6).text("1");

const yTitle = svg.append("text").attr("transform", `translate(28,${y(0)}) rotate(-90)`).attr("text-anchor", "middle")
  .attr("font-family", "'Liberation Serif', 'Times New Roman', serif").attr("font-size", 27);
yTitle.append("tspan").attr("font-style", "italic").text("α");
yTitle.append("tspan").attr("font-size", 17).attr("dy", 6).text("2");

// legend
let legend = svg.append("g").attr("transform", "translate(841,128)");
legend.append("rect").attr("width", 132).attr("height", 51).attr("rx", 11)
  .attr("fill", "#fff").attr("stroke", "#000").attr("stroke-width", 2);
legend.append("line").attr("x1", 12).attr("x2", 39).attr("y1", 24).attr("y2", 24)
  .attr("stroke", dotColor).attr("stroke-width", 1);
legend.append("circle").attr("cx", 25.5).attr("cy", 24).attr("r", 3.6).attr("fill", dotColor);
const legendText = legend.append("text").attr("x", 51).attr("y", 33)
  .attr("font-family", "'Liberation Serif', 'Times New Roman', serif").attr("font-size", 23).attr("font-weight", "bold");
legendText.append("tspan").text(seriesLabel);
legendText.append("tspan").attr("font-style", "italic").text("β");
legendText.append("tspan").text("=5");
</script>
</body>
</html>
